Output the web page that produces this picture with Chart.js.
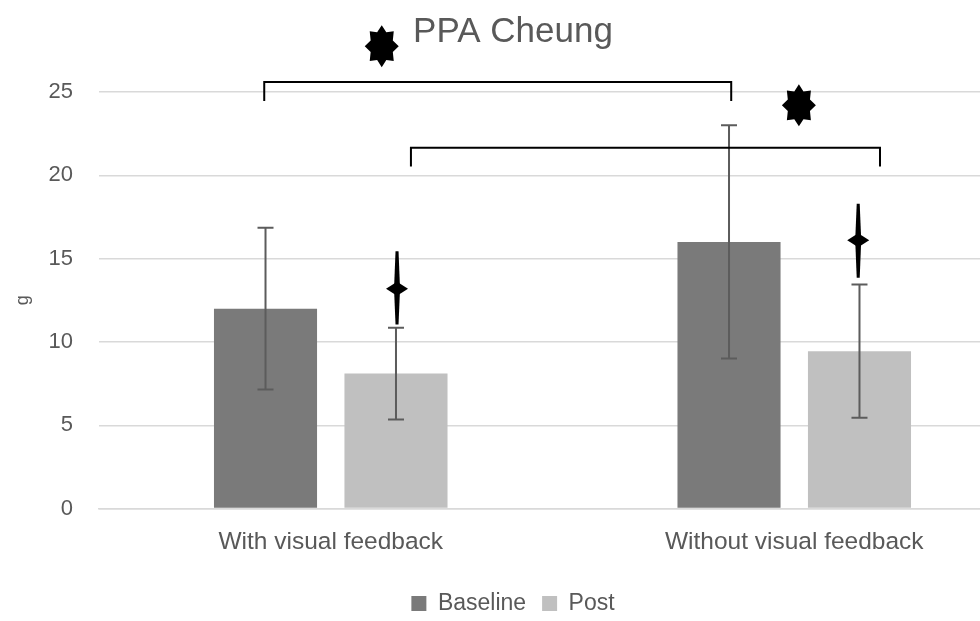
<!DOCTYPE html>
<html>
<head>
<meta charset="utf-8">
<script src="https://cdn.jsdelivr.net/npm/chart.js@4.4.0/dist/chart.umd.min.js"></script>
<style>
  html, body { margin: 0; padding: 0; background: #fff; overflow: hidden; }
  #wrap { width: 1030px; height: 621px; position: relative; }
</style>
</head>
<body>
<div id="wrap"><canvas id="chart"></canvas></div>
<script>
// values
const categories = ['With visual feedback', 'Without visual feedback'];
const baseline = [12.0, 16.0];
const baselineErr = [4.85, 7.0];
const post = [8.1, 9.45];
const postErr = [2.75, 4.0];

// black diamond markers with their whiskers (x in category index units)
const diamondX = [0.143, 1.138];
const diamondY = [13.2, 16.1];
const diamondLow = [11.05, 13.85];
const diamondHigh = [15.45, 18.3];

// significance stars and brackets
const starX = [0.11, 1.01];
const starY = [27.75, 24.2];
const bracketLeft = [-0.1435, 0.173];
const bracketRight = [0.864, 1.185];
const bracketTop = [25.6, 21.66];
const bracketFoot = [24.46, 20.53];

const yTicks = [0, 5, 10, 15, 20, 25];

const textColor = '#595959';
const font = "'Liberation Sans', Arial, sans-serif";

function drawStar(ctx, cx, cy) {
  const n = 8;
  ctx.beginPath();
  for (let i = 0; i < n * 2; i++) {
    const a = Math.PI * i / n - Math.PI / 2;
    const rx = i % 2 ? 12 : 17;
    const ry = i % 2 ? 15 : 21;
    const px = cx + rx * Math.cos(a), py = cy + ry * Math.sin(a);
    i ? ctx.lineTo(px, py) : ctx.moveTo(px, py);
  }
  ctx.closePath();
  ctx.fill();
}

const errorBars = {
  id: 'errorBars',
  afterDatasetDraw(chart, args) {
    const ds = chart.data.datasets[args.index];
    if (!ds.errors) return;
    const ctx = chart.ctx, y = chart.scales.y;
    ctx.save();
    ctx.strokeStyle = '#5c5c5c';
    ctx.lineWidth = 2;
    args.meta.data.forEach((bar, i) => {
      const top = y.getPixelForValue(ds.data[i] + ds.errors[i]);
      const bot = y.getPixelForValue(ds.data[i] - ds.errors[i]);
      ctx.beginPath();
      ctx.moveTo(bar.x, top); ctx.lineTo(bar.x, bot);
      ctx.moveTo(bar.x - 8, top); ctx.lineTo(bar.x + 8, top);
      ctx.moveTo(bar.x - 8, bot); ctx.lineTo(bar.x + 8, bot);
      ctx.stroke();
    });
    ctx.restore();
  }
};

// brackets, stars and diamond markers, placed through the x2 / y scales
const overlays = {
  id: 'overlays',
  afterDatasetsDraw(chart) {
    const ctx = chart.ctx;
    const px = v => chart.scales.x2.getPixelForValue(v);
    const py = v => chart.scales.y.getPixelForValue(v);
    ctx.save();
    ctx.strokeStyle = '#000';
    ctx.fillStyle = '#000';
    ctx.lineWidth = 2;
    bracketLeft.forEach((l, i) => {
      ctx.beginPath();
      ctx.moveTo(px(l), py(bracketFoot[i]));
      ctx.lineTo(px(l), py(bracketTop[i]));
      ctx.lineTo(px(bracketRight[i]), py(bracketTop[i]));
      ctx.lineTo(px(bracketRight[i]), py(bracketFoot[i]));
      ctx.stroke();
    });
    diamondX.forEach((x, i) => {
      const cx = px(x), cy = py(diamondY[i]);
      const t = py(diamondHigh[i]), b = py(diamondLow[i]);
      // tapered whisker
      ctx.beginPath();
      ctx.moveTo(cx - 1.5, t); ctx.lineTo(cx + 1.5, t);
      ctx.lineTo(cx + 3, cy); ctx.lineTo(cx + 1.5, b);
      ctx.lineTo(cx - 1.5, b); ctx.lineTo(cx - 3, cy);
      ctx.closePath();
      ctx.fill();
      // flat diamond
      ctx.beginPath();
      ctx.moveTo(cx - 11, cy); ctx.lineTo(cx, cy - 7);
      ctx.lineTo(cx + 11, cy); ctx.lineTo(cx, cy + 7);
      ctx.closePath();
      ctx.fill();
    });
    starX.forEach((x, i) => drawStar(ctx, px(x), py(starY[i])));
    ctx.restore();
  }
};

new Chart(document.getElementById('chart'), {
  type: 'bar',
  data: {
    labels: categories,
    datasets: [
      { label: 'Baseline', data: baseline, errors: baselineErr, backgroundColor: '#7a7a7a',
        barPercentage: 0.79, categoryPercentage: 0.563 },
      { label: 'Post', data: post, errors: postErr, backgroundColor: '#c0c0c0',
        barPercentage: 0.79, categoryPercentage: 0.563 }
    ]
  },
  options: {
    responsive: true,
    maintainAspectRatio: false,
    animation: false,
    layout: { padding: { left: 0, right: 4, top: 0, bottom: -4 } },
    plugins: {
      tooltip: { enabled: false },
      title: {
        display: true, text: 'PPA Cheung', color: textColor,
        font: { family: font, size: 35, weight: 'normal' },
        padding: { top: 11, bottom: 39 }
      },
      legend: {
        position: 'bottom',
        labels: {
          color: textColor, font: { family: font, size: 23 },
          boxWidth: 15, boxHeight: 15, padding: 16
        }
      }
    },
    scales: {
      x: {
        grid: { display: false, drawTicks: false },
        border: { color: '#d9d9d9', width: 1.5 },
        ticks: { color: textColor, font: { family: font, size: 24.5 }, padding: 19 }
      },
      x2: { type: 'linear', min: -0.5, max: 1.5, offset: false, display: false },
      y: {
        min: 0, max: 25,
        afterFit(scale) { scale.width = 99; },
        afterBuildTicks(scale) { scale.ticks = yTicks.map(v => ({value: v})); },
        grid: { color: '#d9d9d9', lineWidth: 1.5, drawTicks: false },
        border: { display: false },
        title: { display: true, text: 'g', color: textColor,
          font: { family: font, size: 18 }, padding: { top: 12, bottom: 0 } },
        ticks: { color: textColor, font: { family: font, size: 22 }, padding: 26 }
      }
    }
  },
  plugins: [errorBars, overlays]
});
</script>
</body>
</html>
